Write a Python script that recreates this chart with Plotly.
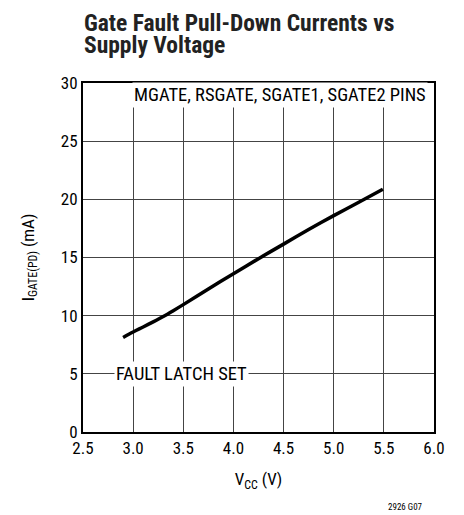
import plotly.graph_objects as go

vcc = [2.9, 3.0, 3.1, 3.2, 3.3, 3.4, 3.5, 3.75, 4.0, 4.25, 4.5, 4.75, 5.0, 5.25, 5.49]
igate = [8.13, 8.6, 9.03, 9.47, 9.93, 10.43, 10.95, 12.3, 13.6, 14.9, 16.15, 17.4, 18.6, 19.75, 20.86]

x_ticks = [2.5, 3.0, 3.5, 4.0, 4.5, 5.0, 5.5, 6.0]
x_tick_labels = ["2.5", "3.0", "3.5", "4.0", "4.5", "5.0", "5.5", "6.0"]
y_ticks = [0, 5, 10, 15, 20, 25, 30]

FONT = "Liberation Sans Narrow, Roboto Condensed, Arial Narrow, Roboto, Liberation Sans, sans-serif"

fig = go.Figure()
fig.add_trace(go.Scatter(x=vcc, y=igate, mode="lines",
                         line=dict(color="black", width=3.5, shape="spline", smoothing=0.8),
                         showlegend=False, hoverinfo="skip"))

fig.update_layout(
    width=464, height=515,
    margin=dict(l=75, r=38, t=75, b=91),
    paper_bgcolor="white", plot_bgcolor="white",
    font=dict(family=FONT, color="black", size=17),
    xaxis=dict(range=[2.5, 6.0], tickvals=x_ticks, ticktext=x_tick_labels,
               showgrid=True, gridcolor="#444", gridwidth=1,
               showline=True, linecolor="black", linewidth=2, mirror=True,
               ticks="", zeroline=False,
               title=dict(text="V<sub>CC</sub> (V)", font=dict(size=17), standoff=16)),
    yaxis=dict(range=[0, 30], tickvals=y_ticks,
               showgrid=True, gridcolor="#444", gridwidth=1,
               showline=True, linecolor="black", linewidth=2, mirror=True,
               ticks="", zeroline=False,
               title=dict(text="I<sub>GATE(PD)</sub> (mA)", font=dict(size=17), standoff=22)),
    annotations=[
        dict(text="<b>Gate Fault Pull-Down Currents vs</b>", x=-0.003, y=1.172,
             xref="paper", yref="paper", xanchor="left", yanchor="middle",
             showarrow=False, font=dict(size=23.5, color="#222")),
        dict(text="<b>Supply Voltage</b>", x=-0.003, y=1.108,
             xref="paper", yref="paper", xanchor="left", yanchor="middle",
             showarrow=False, font=dict(size=23.5, color="#222")),
        dict(text="MGATE, RSGATE, SGATE1, SGATE2 PINS", x=5.94, y=29.0,
             xref="x", yref="y", xanchor="right", yanchor="middle",
             showarrow=False, bgcolor="white", borderpad=1, font=dict(size=18.5)),
        dict(text="FAULT LATCH SET", x=2.81, y=5,
             xref="x", yref="y", xanchor="left", yanchor="middle",
             showarrow=False, bgcolor="white", borderpad=1, font=dict(size=18.5)),
        dict(text="2926 G07", x=0.974, y=-0.215,
             xref="paper", yref="paper", xanchor="right", yanchor="middle",
             showarrow=False, font=dict(size=9)),
    ],
)

fig.write_html("out.html")
